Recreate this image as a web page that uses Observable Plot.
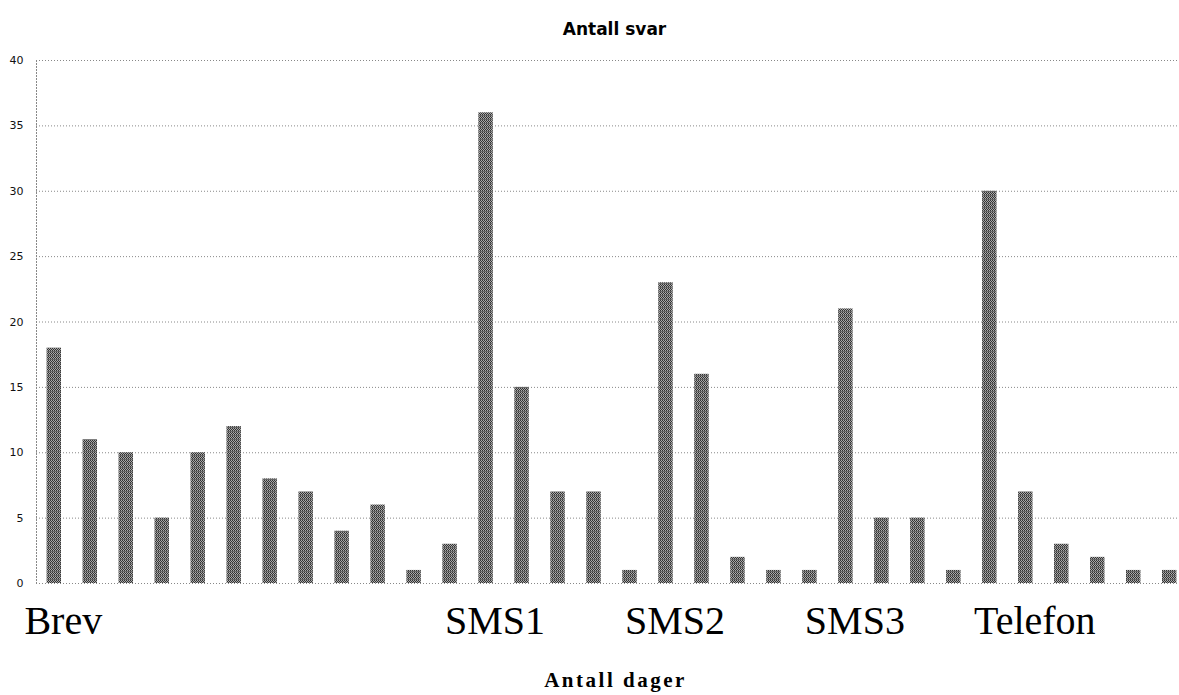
<!DOCTYPE html>
<html>
<head>
<meta charset="utf-8">
<script src="https://cdn.jsdelivr.net/npm/d3@7"></script>
<script src="https://cdn.jsdelivr.net/npm/@observablehq/plot@0.6"></script>
<style>
  html, body { margin: 0; padding: 0; background: #fff; }
  #wrap { width: 1179px; height: 695px; position: relative; overflow: hidden; }
  #title { height: 40px; text-align: center; font: bold 17px "DejaVu Sans", sans-serif; line-height: 17px; padding-left: 50px; box-sizing: border-box; }
  #title span { position: relative; top: 21px; }
  #xlabel { text-align: center; font: bold 21px "Liberation Serif", serif; letter-spacing: 2.5px; height: 40px; line-height: 40px; padding-left: 52px; position: relative; top: 5px; }
  #chart svg { display: block; }
</style>
</head>
<body>
<div id="wrap">
  <div id="title"><span>Antall svar</span></div>
  <div id="chart"></div>
  <div id="xlabel">Antall dager</div>
</div>
<script>
// Bar number (one bar per category, in order)
const barIds = d3.range(1, 33);
// Number of answers per bar
const answers = [18, 11, 10, 5, 10, 12, 8, 7, 4, 6, 1, 3,
                 36, 15, 7, 7, 1,
                 23, 16, 2, 1, 1,
                 21, 5, 5, 1,
                 30, 7, 3, 2, 1, 1];
// Group labels and the bar under which each is written
const groupLabels = ["Brev", "SMS1", "SMS2", "SMS3", "Telefon"];
const groupAnchorBar = [1, 13, 18, 23, 28];
// Y tick values
const yTicks = [0, 5, 10, 15, 20, 25, 30, 35, 40];

const data = barIds.map((id, i) => ({id, value: answers[i]}));
const labels = groupLabels.map((label, i) => ({label, id: groupAnchorBar[i]}));

const plot = Plot.plot({
  width: 1179,
  height: 615,
  marginLeft: 36,
  marginRight: 1,
  marginTop: 20,
  marginBottom: 72,
  style: {fontFamily: "DejaVu Sans, sans-serif", fontSize: "11px", background: "#fff", color: "#111"},
  x: {type: "band", domain: barIds, padding: 0.6, insetLeft: -11, insetRight: -20, axis: null},
  y: {domain: [0, 40], ticks: yTicks, tickSize: 0, tickPadding: 13, label: null},
  marks: [
    Plot.ruleY(yTicks, {stroke: "#888", strokeDasharray: "1,2", strokeWidth: 1}),
    Plot.frame({anchor: "left", stroke: "#888", strokeDasharray: "1,2"}),
    Plot.barY(data, {x: "id", y: "value", fill: "url(#hatch)"}),
    Plot.text(labels, {x: "id", text: "label", frameAnchor: "bottom", dy: 50, dx: 9,
      lineAnchor: "bottom", fontSize: 40, fontFamily: "Liberation Serif, Times New Roman, serif", fill: "#000"})
  ]
});

// Define the checkered fill pattern used by the bars
const svg = d3.select(plot);
const defs = svg.insert("defs", ":first-child");
const pat = defs.append("pattern").attr("id", "hatch").attr("patternUnits", "userSpaceOnUse")
  .attr("width", 4).attr("height", 4);
pat.append("rect").attr("width", 4).attr("height", 4).attr("fill", "#a8a8a8");
for (const [x, y] of [[0,0],[2,0],[1,1],[3,1],[0,2],[2,2]]) {
  pat.append("rect").attr("x", x).attr("y", y).attr("width", 1).attr("height", 1).attr("fill", "#333");
}
pat.append("rect").attr("x", 0).attr("y", 3).attr("width", 4).attr("height", 1).attr("fill", "#666");

document.getElementById("chart").appendChild(plot);
</script>
</body>
</html>
